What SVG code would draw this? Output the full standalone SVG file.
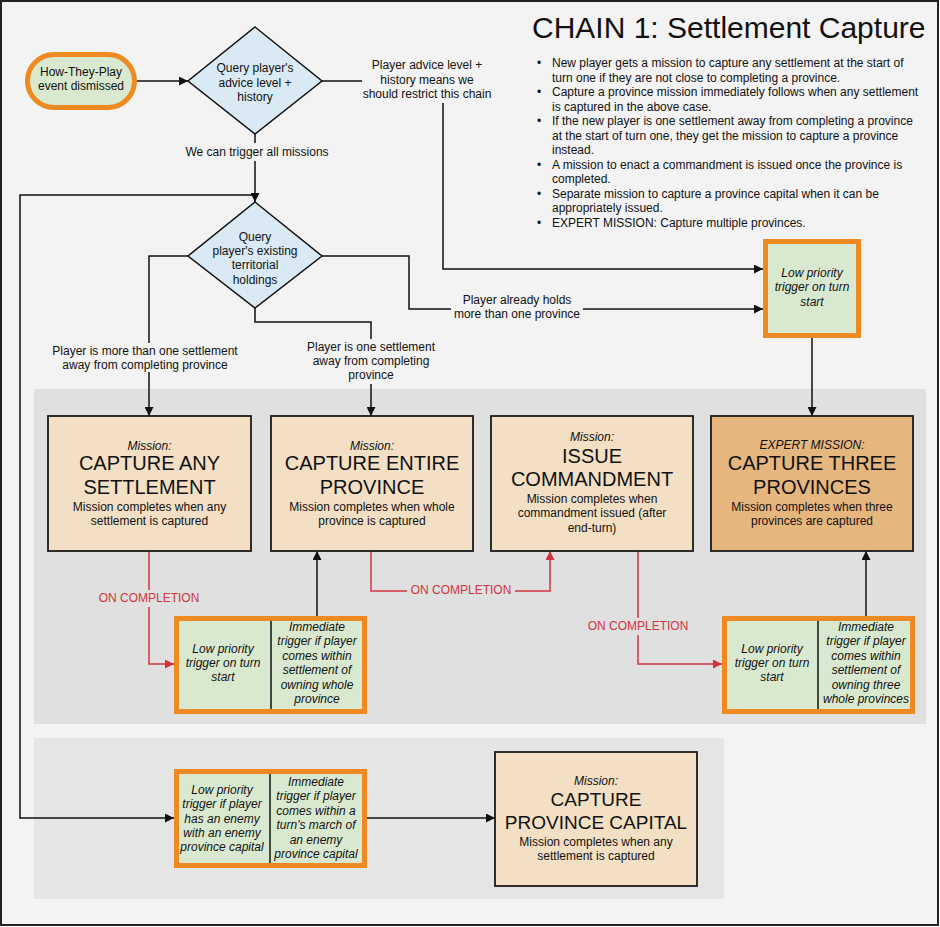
<svg xmlns="http://www.w3.org/2000/svg" width="940" height="927" viewBox="0 0 940 927">
<defs>
<style>
text{font-family:"Liberation Sans",Arial,sans-serif;fill:#111;}
.c{text-anchor:middle;}
.s{font-size:12px;}
.lb{font-size:12px;}
.bl{font-size:12px;}
.it{font-style:italic;}
.big{font-size:20px;}
.big2{font-size:19px;}
text.red{fill:#d2343e;}
.ln{fill:none;stroke:#111;stroke-width:1.5;}
.rl{fill:none;stroke:#d2343e;stroke-width:1.5;}
.mis{fill:#f2dfc4;stroke:#1a1a1a;stroke-width:1.8;}
.exp{fill:#e6b67f;stroke:#1a1a1a;stroke-width:1.8;}
.trg{fill:#d9e9cf;stroke:#ef8a22;stroke-width:5;}
.dia{fill:#d9eaf5;stroke:#111;stroke-width:1.5;}
.div{stroke:#111;stroke-width:1.5;}
</style>
<marker id="ab" viewBox="0 0 10 10" refX="10" refY="5" markerUnits="userSpaceOnUse" markerWidth="11" markerHeight="9" orient="auto"><path d="M0,0 L10,5 L0,10 z" fill="#111"/></marker>
<marker id="ar" viewBox="0 0 10 10" refX="10" refY="5" markerUnits="userSpaceOnUse" markerWidth="11" markerHeight="9" orient="auto"><path d="M0,0 L10,5 L0,10 z" fill="#d2343e"/></marker>
</defs>
<rect x="1" y="1" width="937" height="924" fill="#f3f3f3" stroke="#222" stroke-width="2"/>
<rect x="34" y="389" width="892" height="335" fill="#e0e0e0"/>
<rect x="34" y="738" width="690" height="161" fill="#e5e5e5"/>

<g id="title">
<text x="532" y="38" style="font-size:30px">CHAIN 1: Settlement Capture</text>
</g>
<g id="notes" class="bl">
<text x="537" y="67">•</text><text x="552" y="67">New player gets a mission to capture any settlement at the start of</text>
<text x="552" y="82">turn one if they are not close to completing a province.</text>
<text x="537" y="96">•</text><text x="552" y="96">Capture a province mission immediately follows when any settlement</text>
<text x="552" y="111">is captured in the above case.</text>
<text x="537" y="125">•</text><text x="552" y="125">If the new player is one settlement away from completing a province</text>
<text x="552" y="140">at the start of turn one, they get the mission to capture a province</text>
<text x="552" y="154">instead.</text>
<text x="537" y="169">•</text><text x="552" y="169">A mission to enact a commandment is issued once the province is</text>
<text x="552" y="183">completed.</text>
<text x="537" y="198">•</text><text x="552" y="198">Separate mission to capture a province capital when it can be</text>
<text x="552" y="212">appropriately issued.</text>
<text x="537" y="227">•</text><text x="552" y="227">EXPERT MISSION: Capture multiple provinces.</text>
</g>

<g id="connectors">
<path class="ln" d="M137,81 H188" marker-end="url(#ab)"/>
<path class="ln" d="M322,81 H362"/>
<path class="ln" d="M443,103 V269 H763" marker-end="url(#ab)"/>
<path class="ln" d="M255,134 V143"/>
<path class="ln" d="M255,161 V202" marker-end="url(#ab)"/>
<path class="ln" d="M255,195 H20 V818 H174" marker-end="url(#ab)"/>
<path class="ln" d="M188,256 H149 V343"/>
<path class="ln" d="M149,372 V416" marker-end="url(#ab)"/>
<path class="ln" d="M255,308 V322 H371 V339"/>
<path class="ln" d="M371,384 V416" marker-end="url(#ab)"/>
<path class="ln" d="M322,256 H409 V309 H451"/>
<path class="ln" d="M583,309 H763" marker-end="url(#ab)"/>
<path class="ln" d="M812,338 V416" marker-end="url(#ab)"/>
<path class="ln" d="M317,616 V551" marker-end="url(#ab)"/>
<path class="ln" d="M866,616 V551" marker-end="url(#ab)"/>
<path class="ln" d="M367,818 H495" marker-end="url(#ab)"/>
<path class="rl" d="M149,551 V590"/>
<path class="rl" d="M149,607 V664 H174" marker-end="url(#ar)"/>
<path class="rl" d="M371,551 V591 H407"/>
<path class="rl" d="M515,591 H550 V551" marker-end="url(#ar)"/>
<path class="rl" d="M638,551 V618"/>
<path class="rl" d="M638,635 V664 H722" marker-end="url(#ar)"/>
<g class="lb c">
<text x="427" y="69">Player advice level +</text>
<text x="427" y="84">history means we</text>
<text x="427" y="98">should restrict this chain</text>
<text x="257" y="156">We can trigger all missions</text>
<text x="145" y="355">Player is more than one settlement</text>
<text x="145" y="369">away from completing province</text>
<text x="371" y="351">Player is one settlement</text>
<text x="371" y="365">away from completing</text>
<text x="371" y="379">province</text>
<text x="517" y="304">Player already holds</text>
<text x="517" y="318">more than one province</text>
</g>
<g class="lb c">
<text class="red" x="149" y="602">ON COMPLETION</text>
<text class="red" x="461" y="594">ON COMPLETION</text>
<text class="red" x="638" y="630">ON COMPLETION</text>
</g>
</g>

<g id="start">
<rect x="27.5" y="54.5" width="107" height="53" rx="26.5" fill="#d9e9cf" stroke="#ef8a22" stroke-width="5"/>
<text class="s c" x="81" y="76">How-They-Play</text>
<text class="s c" x="81" y="90">event dismissed</text>
</g>

<g id="query-advice">
<path class="dia" d="M255,27 L322,81 L255,134 L188,81 z"/>
<text class="s c" x="255" y="72">Query player's</text>
<text class="s c" x="255" y="87">advice level +</text>
<text class="s c" x="255" y="101">history</text>
</g>

<g id="query-holdings">
<path class="dia" d="M255,202 L322,256 L255,308 L188,256 z"/>
<text class="s c" x="255" y="241">Query</text>
<text class="s c" x="255" y="255">player's existing</text>
<text class="s c" x="255" y="269">territorial</text>
<text class="s c" x="255" y="284">holdings</text>
</g>

<g id="trigger-top">
<rect class="trg" x="765.5" y="241.5" width="93" height="94"/>
<text class="s c it" x="812" y="277">Low priority</text>
<text class="s c it" x="812" y="291">trigger on turn</text>
<text class="s c it" x="812" y="306">start</text>
</g>

<g id="mission-any">
<rect class="mis" x="48" y="416" width="203" height="135"/>
<text class="s c it" x="149.5" y="450">Mission:</text>
<text class="big c" x="149.5" y="470">CAPTURE ANY</text>
<text class="big c" x="149.5" y="494">SETTLEMENT</text>
<text class="s c" x="149.5" y="511">Mission completes when any</text>
<text class="s c" x="149.5" y="525">settlement is captured</text>
</g>

<g id="mission-province">
<rect class="mis" x="271" y="416" width="202" height="135"/>
<text class="s c it" x="372" y="450">Mission:</text>
<text class="big c" x="372" y="470">CAPTURE ENTIRE</text>
<text class="big c" x="372" y="494">PROVINCE</text>
<text class="s c" x="372" y="511">Mission completes when whole</text>
<text class="s c" x="372" y="525">province is captured</text>
</g>

<g id="mission-commandment">
<rect class="mis" x="491" y="416" width="202" height="135"/>
<text class="s c it" x="592" y="441">Mission:</text>
<text class="big c" x="592" y="463">ISSUE</text>
<text class="big c" x="592" y="486">COMMANDMENT</text>
<text class="s c" x="592" y="503">Mission completes when</text>
<text class="s c" x="592" y="517">commandment issued (after</text>
<text class="s c" x="592" y="532">end-turn)</text>
</g>

<g id="mission-expert">
<rect class="exp" x="711" y="416" width="202" height="135"/>
<text class="s c it" x="812" y="449">EXPERT MISSION:</text>
<text class="big c" x="812" y="470">CAPTURE THREE</text>
<text class="big c" x="812" y="494">PROVINCES</text>
<text class="s c" x="812" y="511">Mission completes when three</text>
<text class="s c" x="812" y="525">provinces are captured</text>
</g>

<g id="trigger-province">
<rect class="trg" x="176.5" y="618.5" width="188" height="93"/>
<line class="div" x1="271" y1="621" x2="271" y2="709"/>
<g class="s c it">
<text x="223" y="653">Low priority</text>
<text x="223" y="667">trigger on turn</text>
<text x="223" y="681">start</text>
<text x="317" y="631">Immediate</text>
<text x="317" y="645">trigger if player</text>
<text x="317" y="660">comes within</text>
<text x="317" y="674">settlement of</text>
<text x="317" y="689">owning whole</text>
<text x="317" y="703">province</text>
</g>
</g>

<g id="trigger-three">
<rect class="trg" x="724.5" y="618.5" width="188" height="93"/>
<line class="div" x1="818" y1="621" x2="818" y2="709"/>
<g class="s c it">
<text x="772" y="653">Low priority</text>
<text x="772" y="667">trigger on turn</text>
<text x="772" y="681">start</text>
<text x="866" y="631">Immediate</text>
<text x="866" y="645">trigger if player</text>
<text x="866" y="660">comes within</text>
<text x="866" y="674">settlement of</text>
<text x="866" y="689">owning three</text>
<text x="866" y="703">whole provinces</text>
</g>
</g>

<g id="trigger-capital">
<rect class="trg" x="176.5" y="771.5" width="188" height="94"/>
<line class="div" x1="270" y1="774" x2="270" y2="863"/>
<g class="s c it">
<text x="222" y="794">Low priority</text>
<text x="222" y="808">trigger if player</text>
<text x="222" y="823">has an enemy</text>
<text x="222" y="837">with an enemy</text>
<text x="222" y="851">province capital</text>
<text x="316" y="786">Immediate</text>
<text x="316" y="800">trigger if player</text>
<text x="316" y="815">comes within a</text>
<text x="316" y="829">turn's march of</text>
<text x="316" y="844">an enemy</text>
<text x="316" y="858">province capital</text>
</g>
</g>

<g id="mission-capital">
<rect class="mis" x="495" y="752" width="202" height="134"/>
<text class="s c it" x="596" y="785">Mission:</text>
<text class="big2 c" x="596" y="806">CAPTURE</text>
<text class="big2 c" x="596" y="829">PROVINCE CAPITAL</text>
<text class="s c" x="596" y="846">Mission completes when any</text>
<text class="s c" x="596" y="860">settlement is captured</text>
</g>
</svg>
